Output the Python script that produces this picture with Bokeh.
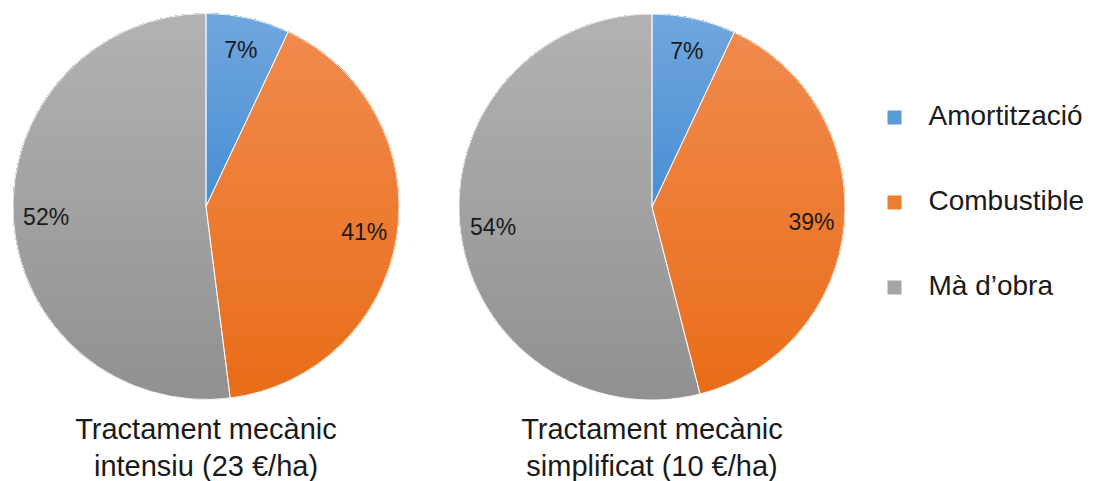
import numpy as np
from bokeh.plotting import figure
from bokeh.models import Range1d, ColumnDataSource
from bokeh.core.properties import value
from bokeh.embed import file_html
from bokeh.resources import INLINE

# Cost shares (%) for the two mechanical treatments
categories = ["Amortització", "Combustible", "Mà d’obra"]
share_intensiu = [7, 41, 52]
share_simplificat = [7, 39, 54]
title_line1 = ["Tractament mecànic", "Tractament mecànic"]
title_line2 = ["intensiu (23 €/ha)", "simplificat (10 €/ha)"]

# slice colours: light (top of the pie) and dark (bottom) gradient stops
top_colors = [(112, 166, 222), (241, 139, 80), (178, 178, 178)]
bottom_colors = [(30, 118, 200), (233, 109, 24), (145, 145, 145)]
key_colors = ["#5b9bd5", "#ed7d31", "#a5a5a5"]

W, H = 1093, 481
FONT = value("Liberation Sans")


def Y(py):
    # page pixels measured from the top -> data y (upwards)
    return H - py


def hexcol(c):
    return "#%02x%02x%02x" % tuple(int(round(v)) for v in c)


def clip_above(px, py, yk):
    # keep the part of polygon (px, py) with y >= yk
    ox, oy = [], []
    n = len(px)
    for i in range(n):
        x1, y1 = px[i], py[i]
        x2, y2 = px[(i + 1) % n], py[(i + 1) % n]
        in1, in2 = y1 >= yk, y2 >= yk
        if in1:
            ox.append(x1)
            oy.append(y1)
        if in1 != in2:
            t = (yk - y1) / (y2 - y1)
            ox.append(x1 + t * (x2 - x1))
            oy.append(yk)
    return ox, oy


p = figure(width=W, height=H, x_range=Range1d(0, W), y_range=Range1d(0, H),
           output_backend="svg", toolbar_location=None, min_border=0)
p.axis.visible = False
p.grid.visible = False
p.outline_line_color = None
p.background_fill_color = "white"
p.border_fill_color = "white"

R = 193.0
pies = [(205.5, Y(206.0), share_intensiu), (651.5, Y(206.5), share_simplificat)]
n_layers = 48

for k, (cx, cy, shares) in enumerate(pies):
    frac = np.array(shares, dtype=float) / sum(shares)
    cum = np.concatenate([[0.0], np.cumsum(frac)])
    start = np.pi / 2 - 2 * np.pi * cum[:-1]
    end = np.pi / 2 - 2 * np.pi * cum[1:]

    # base slices in the darkest tone
    src = ColumnDataSource(dict(start=start, end=end,
                                color=[hexcol(c) for c in bottom_colors],
                                cat=categories))
    p.wedge(x=cx, y=cy, radius=R, start_angle="start", end_angle="end",
            direction="clock", fill_color="color", line_color=None, source=src)

    # vertical gradient: progressively lighter layers, each covering the slice
    # from a rising horizontal cut up to the top of the pie
    xs, ys, cols = [], [], []
    for j in range(1, n_layers):
        yk = cy - R + 2 * R * j / n_layers
        f = j / (n_layers - 1)
        for i in range(len(shares)):
            t = np.linspace(start[i], end[i], 200)
            wx = [cx] + list(cx + R * np.cos(t))
            wy = [cy] + list(cy + R * np.sin(t))
            ox, oy = clip_above(wx, wy, yk)
            if len(ox) < 3:
                continue
            c = [b + f * (tp - b) for b, tp in zip(bottom_colors[i], top_colors[i])]
            xs.append(ox)
            ys.append(oy)
            cols.append(hexcol(c))
    p.patches(xs="xs", ys="ys", fill_color="cols", line_color=None,
              source=ColumnDataSource(dict(xs=xs, ys=ys, cols=cols)))

    # thin white separators between the slices
    p.wedge(x=cx, y=cy, radius=R, start_angle="start", end_angle="end",
            direction="clock", fill_alpha=0, line_color="white",
            line_width=1, line_alpha=0.8, source=src)

    # percentage labels along each slice's mid-angle
    mid = 2 * np.pi * (cum[:-1] + cum[1:]) / 2
    rl = 0.83 * R
    lx = cx + rl * np.sin(mid)
    ly = cy + rl * np.cos(mid)
    labels = [f"{s}%" for s in shares]
    p.text(x=lx, y=ly, text=labels, text_font=FONT, text_font_size="23px",
           text_align="center", text_baseline="middle", text_color="#1a1a1a")

    # caption under the pie
    p.text(x=[cx, cx], y=[Y(428), Y(465)], text=[title_line1[k], title_line2[k]],
           text_font=FONT, text_font_size="29px", text_align="center",
           text_baseline="middle", text_color="#1a1a1a")

# legend
key_y = [Y(117), Y(202), Y(287)]
p.scatter(x=[894] * 3, y=key_y, marker="square", size=14,
          fill_color=key_colors, line_color=None)
p.text(x=[928] * 3, y=[Y(115), Y(200), Y(285)], text=categories, text_font=FONT,
       text_font_size="28px", text_align="left", text_baseline="middle",
       text_color="#1a1a1a")

open("out.html", "w").write(file_html(p, INLINE))
